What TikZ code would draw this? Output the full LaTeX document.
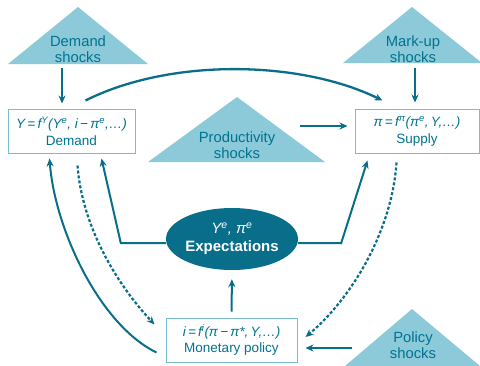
\documentclass[tikz,border=0pt]{standalone}
\usepackage{fontspec}
\setmainfont{Liberation Sans}
\usetikzlibrary{arrows.meta,calc,shapes.geometric}
\definecolor{tri}{RGB}{140,202,218}
\definecolor{ink}{RGB}{0,115,145}
\definecolor{lnc}{RGB}{8,110,137}
\definecolor{boxc}{RGB}{120,190,210}
\tikzset{
  shock/.style={fill=tri},
  lab/.style={text=ink, align=center, font=\fontsize{14.8}{15.5}\selectfont, inner sep=0pt},
  eqbox/.style={draw=boxc, line width=1pt, fill=white, text=ink, align=center, inner sep=0pt,
     font=\fontsize{13.5}{16.5}\selectfont},
  arr/.style={draw=lnc, line width=2pt, -{Stealth[length=8pt,width=7pt]}},
  darr/.style={arr, line width=2.2pt, dash pattern=on 3pt off 2pt},
  plain/.style={draw=lnc, line width=2pt},
}
\newcommand{\sps}[1]{\textsuperscript{#1}}
\begin{document}
\begin{tikzpicture}[x=1pt,y=-1pt]
\useasboundingbox (0,0) rectangle (480,365);
% triangles
\fill[shock] (78,7) -- (148,64) -- (8,64) -- cycle;
\fill[shock] (412,7) -- (482,63) -- (343,63) -- cycle;
\fill[shock] (237,97) -- (325,162) -- (148,162) -- cycle;
\fill[shock] (412,309) -- (480,366) -- (345,366) -- cycle;
\node[lab] (dsh) at (78,49) {Demand\\shocks};
\node[lab] (msh) at (413,49) {Mark-up\\shocks};
\node[lab] (psh) at (237,145) {Productivity\\shocks};
\node[lab] (posh) at (413,345) {Policy\\shocks};
% boxes
\node[eqbox, minimum width=127pt, minimum height=44pt] (dem) at (71.5,131)
  {{\itshape Y\,=\,f\sps{Y}(Y\sps{e}, i\,−\,π\sps{e},…)}\\Demand};
\node[eqbox, minimum width=124pt, minimum height=44pt] (sup) at (417,131)
  {{\itshape π\,=\,f\sps{π}(π\sps{e},\,Y,…)}\\Supply};
\node[eqbox, minimum width=131pt, minimum height=44pt] (mon) at (231.5,340)
  {{\itshape i\,=\,f\sps{i}(π\,−\,π*,\,Y,…)}\\Monetary policy};
\node[ellipse, fill=lnc, text=white, minimum width=120pt, minimum height=62pt, inner sep=0pt,
  align=center, font=\bfseries\fontsize{15}{18}\selectfont] (exp) at (232,239)
  {{\mdseries\itshape Y\sps{e}, π\sps{e}}\\Expectations};
% coordinates for shock arrows
\coordinate (dsa) at (62,68);
\coordinate (msa) at (415,68);
\coordinate (psa) at (300,126);
\coordinate (posa) at (352,348);
% shock arrows
\draw[arr, shorten >=5pt] (dsa) -- (dsa |- dem.north);
\draw[arr, shorten >=6pt] (msa) -- (msa |- sup.north);
\draw[arr, shorten >=7pt] (psa) -- (psa -| sup.west);
\draw[arr, shorten >=8pt] (posa) -- (posa -| mon.east);
% demand -> supply
\draw[arr, line width=2.3pt] ($(dem.north west)+(78,-8)$) .. controls (170,58) and (300,60) .. ($(sup.north west)+(28,-8)$);
% expectations
\draw[arr] (exp.west) ++(0,4) -- ++(-45,0) -- ($(dem.south west)+(94,5)$);
\draw[arr] (exp.east) ++(0,4) -- ++(43,0) -- ($(sup.south west)+(13,7)$);
\draw[arr, shorten >=9pt, shorten <=6pt] (mon.north) -- (exp.south);
% monetary policy -> demand
\draw[arr] ($(mon.south west)+(-9,-10)$) .. controls (100,325) and (55,230) .. ($(dem.south west)+(42,5)$);
% demand -> monetary (dashed)
\draw[darr] ($(dem.south west)+(70,12)$) .. controls (82,225) and (115,282) .. ($(mon.north west)+(-11,7)$);
% supply -> monetary (dashed)
\draw[darr] ($(sup.south west)+(42,9)$) .. controls (392,232) and (350,300) .. ($(mon.east)+(8,-3)$);
\end{tikzpicture}
\end{document}
